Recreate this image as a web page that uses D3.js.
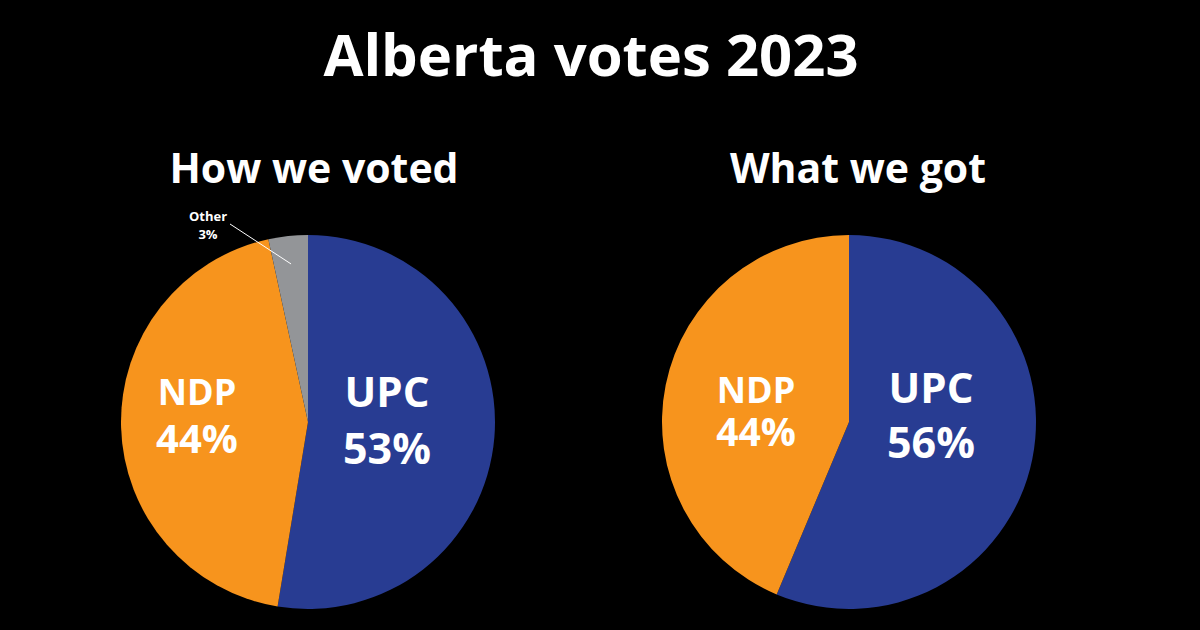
<!DOCTYPE html>
<html>
<head>
<meta charset="utf-8">
<script src="https://cdn.jsdelivr.net/npm/d3@7"></script>
<style>
html,body{margin:0;padding:0;background:#000;}
svg{display:block;}
text{font-family:"Open Sans",sans-serif;font-weight:700;fill:#fff;}
</style>
</head>
<body>
<svg id="chart" width="1200" height="630"></svg>
<script>
const title = "Alberta votes 2023";
const subtitles = ["How we voted", "What we got"];
const parties = ["UPC", "NDP", "Other"];
const partyColors = ["#283C92", "#F7941D", "#939598"];
const votesShare = [52.6, 44.0, 3.4];
const votesLabels = ["53%", "44%", "3%"];
const seatsParties = ["UPC", "NDP"];
const seats = [49, 38];
const seatsLabels = ["56%", "44%"];

const svg = d3.select("#chart");
svg.append("rect").attr("width",1200).attr("height",630).attr("fill","#000");

svg.append("text").attr("x",591).attr("y",76).attr("text-anchor","middle")
  .style("font-size","58px").text(title);

const color = d3.scaleOrdinal().domain(parties).range(partyColors);
const pie = d3.pie().sort(null).value(d => d.v);
const R = 187;
const arc = d3.arc().innerRadius(0).outerRadius(R);

function drawPie(cx, cy, names, vals, labels, sub, subX, labelSpec) {
  const g = svg.append("g").attr("transform",`translate(${cx},${cy})`);
  const data = names.map((n,i)=>({name:n, v:vals[i], label:labels[i]}));
  const arcs = pie(data);
  g.selectAll("path").data(arcs).join("path")
    .attr("d", arc).attr("fill", d => color(d.data.name));
  svg.append("text").attr("x", subX).attr("y", 183).attr("text-anchor","middle")
    .style("font-size","41px").text(sub);
  arcs.forEach(a => {
    const s = labelSpec[a.data.name];
    if (!s) return;
    g.append("text").attr("text-anchor","middle").attr("x", s.x).attr("y", s.y1)
      .style("font-size", s.f1+"px").text(a.data.name);
    g.append("text").attr("text-anchor","middle").attr("x", s.x).attr("y", s.y2)
      .style("font-size", s.f2+"px").text(a.data.label);
  });
  return {g, arcs};
}

const left = drawPie(308, 422, parties, votesShare, votesLabels, subtitles[0], 314, {
  UPC: {x: 79, y1: -15, f1: 42, y2: 42, f2: 43},
  NDP: {x: -111, y1: -17, f1: 36, y2: 31, f2: 40}
});
// Other label with leader line
const otherArc = left.arcs[2];
const oc = d3.arc().innerRadius(R*0.85).outerRadius(R*0.85).centroid(otherArc);
left.g.append("line").attr("x1", oc[0]).attr("y1", oc[1]).attr("x2", -78).attr("y2", -198)
  .attr("stroke","#fff").attr("stroke-width",1);
left.g.append("text").attr("text-anchor","middle").attr("x",-100).attr("y",-201)
  .style("font-size","13px").text("Other");
left.g.append("text").attr("text-anchor","middle").attr("x",-100).attr("y",-183)
  .style("font-size","13px").text(votesLabels[2]);

drawPie(849, 422, seatsParties, seats, seatsLabels, subtitles[1], 858, {
  UPC: {x: 82, y1: -19, f1: 42, y2: 36, f2: 43},
  NDP: {x: -93, y1: -19, f1: 36, y2: 24, f2: 39}
});
</script>
</body>
</html>
